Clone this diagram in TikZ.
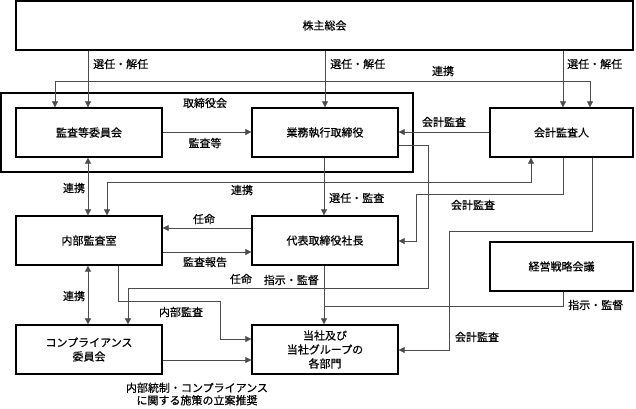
\documentclass[tikz,border=0pt]{standalone}
\usepackage{fontspec}
\setmainfont{Noto Sans CJK JP}[FakeBold=0.5]
\usetikzlibrary{arrows.meta}
\begin{document}
\begin{tikzpicture}[x=1pt,y=-1pt,
  box/.style={draw=black,line width=1.3pt,minimum width=146pt,minimum height=49pt,inner sep=0pt,align=center,font=\fontsize{11}{14}\selectfont},
  conn/.style={draw=black!70,line width=0.7pt},
  arr/.style={conn,-{Triangle[length=6pt,width=6pt]}},
  darr/.style={conn,{Triangle[length=6pt,width=6pt]}-{Triangle[length=6pt,width=6pt]}},
  lbl/.style={font=\fontsize{11}{12.5}\selectfont,inner sep=1pt,align=center}]
\useasboundingbox (0,0) rectangle (636,408);
% boxes
\node[box,minimum width=617pt] (top) at (324.5,25.5) {株主総会};
\node[draw=black,line width=1.3pt,minimum width=412pt,minimum height=79pt,inner sep=0pt] (board) at (207,132.5) {};
\node[lbl] (boardlbl) at (205,103) {取締役会};
\node[box] (A) at (89,132.5) {監査等委員会};
\node[box] (B) at (325,132.5) {業務執行取締役};
\node[box,minimum width=143pt] (C) at (561.5,132.5) {会計監査人};
\node[box] (D) at (89,240.5) {内部監査室};
\node[box] (E) at (325,240.5) {代表取締役社長};
\node[box,minimum width=143pt] (F) at (561.5,266.5) {経営戦略会議};
\node[box] (G) at (89,349.5) {コンプライアンス\\委員会};
\node[box] (H) at (325,349.5) {当社及び\\当社グループの\\各部門};
% connectors from shareholders
\draw[arr] (88,0 |- top.south) -- (88,0 |- A.north);
\draw[arr] (325,0 |- top.south) -- (325,0 |- B.north);
\draw[arr] (563,0 |- top.south) -- (563,0 |- C.north);
\node[lbl,anchor=west] (l1) at (92,64) {選任・解任};
\node[lbl,anchor=west] (l2) at (329,64) {選任・解任};
\node[lbl,anchor=west] (l3) at (566,64) {選任・解任};
% renkei A <-> C
\draw[darr] (55,0 |- A.north) |- (590,81) -- (590,0 |- C.north);
\node[lbl] (l4) at (443,71) {連携};
% A -> B
\draw[arr] (A.east |- 0,132) -- (B.west |- 0,132);
\node[lbl] (l5) at (205,143) {監査等};
% C -> B
\draw[arr] (C.west |- 0,132) -- (B.east |- 0,132);
\node[lbl] (l6) at (444,122) {会計監査};
% B -> G (ninmei)
\draw[arr] (B.east |- 0,145) -- (428,145) -- (428,288) -- (128,288) -- (128,0 |- G.north);
\node[lbl] (l7) at (241,279) {任命};
% B -> E
\draw[arr] (324,0 |- B.south) -- (324,0 |- E.north);
\node[lbl,anchor=west] (l8) at (328,198) {選任・監査};
% A <-> D
\draw[darr] (88,0 |- A.south) -- (88,0 |- D.north);
\node[lbl] (l9) at (74,188) {連携};
% D <-> C
\draw[darr] (107,0 |- D.north) |- (531,182) -- (531,0 |- C.south);
\node[lbl] (l10) at (242,190) {連携};
% C -> E
\draw[arr] (563,0 |- C.south) |- (416,194) |- (E.east |- 0,241);
\node[lbl] (l11) at (473,205) {会計監査};
% C -> H
\draw[arr] (592,0 |- C.south) |- (449,231) |- (H.east |- 0,350);
\node[lbl] (l12) at (477,337) {会計監査};
% E -> D
\draw[arr] (E.west |- 0,228) -- (D.east |- 0,228);
\node[lbl] (l13) at (204,219) {任命};
% D -> E
\draw[arr] (D.east |- 0,252) -- (E.west |- 0,252);
\node[lbl] (l14) at (205,262) {監査報告};
% D <-> G
\draw[darr] (88,0 |- D.south) -- (88,0 |- G.north);
\node[lbl] (l15) at (74,296) {連携};
% D -> H
\draw[arr] (118,0 |- D.south) |- (220,301) |- (H.west |- 0,339);
\node[lbl] (l16) at (181,312) {内部監査};
% G -> H
\draw[arr] (G.east |- 0,360) -- (H.west |- 0,360);
\node[lbl] (l17) at (197,394) {内部統制・コンプライアンス\\に関する施策の立案推奨};
% E -> H
\draw[arr] (324,0 |- E.south) -- (324,0 |- H.north);
\node[lbl,anchor=east] (l18) at (320,280) {指示・監督};
% F -> join
\draw[conn] (563,0 |- F.south) |- (324,306);
\node[lbl,anchor=west] (l19) at (567,305) {指示・監督};
\end{tikzpicture}
\end{document}
